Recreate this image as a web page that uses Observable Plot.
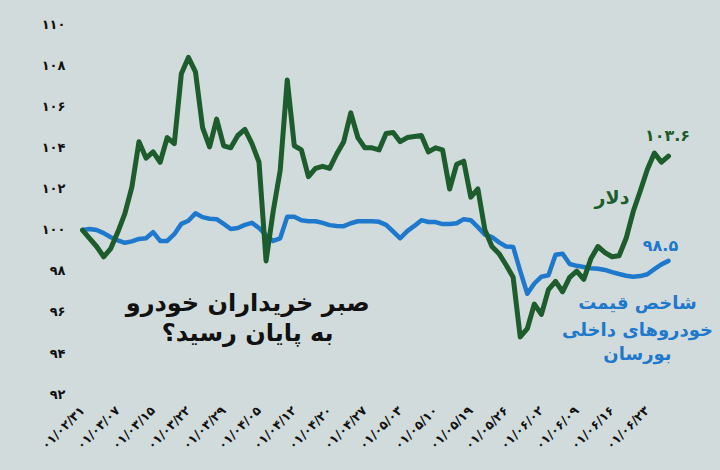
<!DOCTYPE html>
<html>
<head>
<meta charset="utf-8">
<script src="https://cdn.jsdelivr.net/npm/d3@7"></script>
<script src="https://cdn.jsdelivr.net/npm/@observablehq/plot@0.6"></script>
<style>
  html, body { margin: 0; padding: 0; background: #d2dbdb; }
  #chart svg { display: block; }
</style>
</head>
<body>
<div id="chart"></div>
<script>
const dateLabels = ["۰۱/۰۲/۳۱", "۰۱/۰۳/۰۷", "۰۱/۰۳/۱۵", "۰۱/۰۳/۲۲", "۰۱/۰۳/۲۹", "۰۱/۰۴/۰۵", "۰۱/۰۴/۱۲", "۰۱/۰۴/۲۰", "۰۱/۰۴/۲۷", "۰۱/۰۵/۰۳", "۰۱/۰۵/۱۰", "۰۱/۰۵/۱۹", "۰۱/۰۵/۲۶", "۰۱/۰۶/۰۲", "۰۱/۰۶/۰۹", "۰۱/۰۶/۱۶", "۰۱/۰۶/۲۳"];

const dollar = [100.0, 99.6, 99.2, 98.7, 99.1, 99.9, 100.8, 102.1, 104.3, 103.5,
  103.8, 103.3, 104.5, 104.2, 107.6, 108.4, 107.7, 105.0, 104.05, 105.4,
  104.1, 104.0, 104.6, 104.9, 104.2, 103.3, 98.5, 100.9, 102.9, 107.3,
  104.1, 103.9, 102.6, 103.0, 103.1, 103.0, 103.7, 104.3, 105.7, 104.5,
  104.0, 104.0, 103.9, 104.7, 104.75, 104.3, 104.5, 104.55, 104.6, 103.8,
  104.0, 103.9, 102.0, 103.2, 103.35, 101.6, 102.0, 100.0, 99.2, 98.85,
  98.3, 97.7, 94.8, 95.2, 96.4, 95.9, 97.1, 97.5, 97.0, 97.7,
  98.0, 97.6, 98.6, 99.2, 98.9, 98.7, 98.75, 99.6, 100.9, 101.9,
  102.95, 103.75, 103.3, 103.6];

const carIndex = [100.0, 100.05, 100.0, 99.85, 99.65, 99.5, 99.38, 99.45, 99.57, 99.6,
  99.9, 99.47, 99.47, 99.8, 100.3, 100.45, 100.82, 100.63, 100.55, 100.53,
  100.3, 100.05, 100.1, 100.25, 100.35, 100.1, 99.75, 99.47, 99.6, 100.65,
  100.65, 100.48, 100.43, 100.43, 100.35, 100.24, 100.2, 100.19, 100.33, 100.43,
  100.43, 100.43, 100.4, 100.25, 99.93, 99.6, 99.95, 100.2, 100.48, 100.39,
  100.39, 100.29, 100.29, 100.33, 100.53, 100.48, 100.14, 99.78, 99.66, 99.4,
  99.2, 99.18, 98.0, 96.9, 97.4, 97.73, 97.8, 98.8, 98.85, 98.35,
  98.26, 98.2, 98.14, 98.12, 98.06, 97.95, 97.86, 97.78, 97.73, 97.76,
  97.85, 98.1, 98.33, 98.5];

const yTicks = [92, 94, 96, 98, 100, 102, 104, 106, 108, 110];
const xTickStep = 5;

const titleLines = ["صبر خریداران خودرو", "به پایان رسید؟"];
const dollarName = "دلار";
const dollarLast = "۱۰۳.۶";
const carName = ["شاخص قیمت", "خودروهای داخلی", "بورسان"];
const carLast = "۹۸.۵";

const GREEN = "#1d5c2c";
const BLUE = "#1e78cc";
const BG = "#d2dbdb";
const FONT = "'DejaVu Sans', sans-serif";

const faDigits = "۰۱۲۳۴۵۶۷۸۹";
const fa = n => String(n).replace(/\d/g, d => faDigits[+d]);

const dollarData = dollar.map((v, i) => ({i, v}));
const carData = carIndex.map((v, i) => ({i, v}));
const xTicks = dateLabels.map((_, k) => k * xTickStep);
const lastI = dollar.length - 1;

const label = (t, opts) => Plot.text([t], {text: d => d, fontWeight: "bold", ...opts});

const chart = Plot.plot({
  width: 720,
  height: 470,
  marginTop: 24,
  marginBottom: 76,
  marginLeft: 82,
  marginRight: 52,
  style: {background: BG, fontFamily: FONT, color: "#111"},
  x: {domain: [0, lastI], axis: null},
  y: {domain: [92, 110], axis: null},
  marks: [
    Plot.axisY({ticks: yTicks, tickSize: 0, tickPadding: 17, tickFormat: fa, fontSize: 13, fontWeight: "bold", label: null}),
    Plot.axisX({ticks: xTicks, tickSize: 0, tickPadding: 14, tickRotate: -45, tickFormat: i => dateLabels[i / xTickStep], fontSize: 12.5, fontWeight: "bold", label: null}),
    Plot.line(carData, {x: "i", y: "v", stroke: BLUE, strokeWidth: 4.5, strokeLinejoin: "round", strokeLinecap: "round"}),
    Plot.line(dollarData, {x: "i", y: "v", stroke: GREEN, strokeWidth: 5, strokeLinejoin: "round", strokeLinecap: "round"}),
    label(dollarLast, {x: lastI, y: dollar[lastI], dx: -1, dy: -20, fill: GREEN, fontSize: 16}),
    label(dollarName, {x: 75, y: 101.55, fill: GREEN, fontSize: 19}),
    label(carLast, {x: lastI, y: carIndex[lastI], dx: -8, dy: -15, fill: BLUE, fontSize: 16}),
    label(carName[0], {x: 78.6, y: 96.45, fill: BLUE, fontSize: 18}),
    label(carName[1], {x: 78.6, y: 96.45, dy: 27, fill: BLUE, fontSize: 18}),
    label(carName[2], {x: 78.6, y: 96.45, dy: 51, fill: BLUE, fontSize: 18}),
    label(titleLines[0], {x: 23.4, y: 96.45, fill: "#111", fontSize: 24}),
    label(titleLines[1], {x: 23.4, y: 96.45, dy: 30, fill: "#111", fontSize: 24})
  ]
});
document.getElementById("chart").append(chart);
</script>
</body>
</html>
